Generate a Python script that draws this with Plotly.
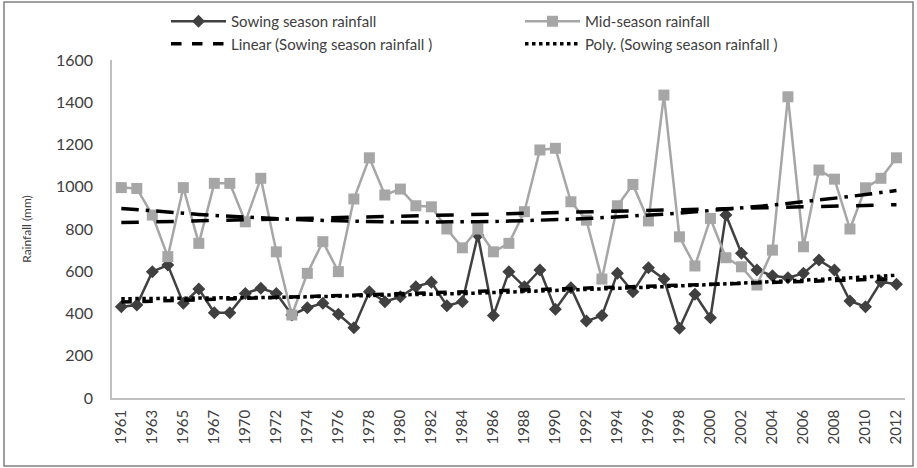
import numpy as np
import plotly.graph_objects as go

years = [str(y) for y in list(range(1961, 1969)) + list(range(1970, 2013))]

sowing = [432, 440, 598, 629, 448, 516, 404, 404, 495, 519, 495, 393, 427, 448, 396, 333, 503,
          456, 479, 527, 548, 437, 456, 771, 390, 598, 527, 606, 420, 522, 364, 390, 590, 503,
          617, 563, 330, 491, 380, 866, 685, 606, 579, 569, 590, 653, 606, 459, 432, 550, 538]

midseason = [996, 992, 866, 669, 996, 732, 1016, 1016, 834, 1040, 692, 393, 590, 740, 598, 942, 1137,
             961, 989, 910, 905, 800, 711, 800, 692, 732, 882, 1174, 1182, 929, 842, 563, 910, 1011,
             838, 1434, 763, 625, 850, 664, 621, 535, 700, 1426, 716, 1079, 1036, 800, 995, 1040, 1137]

tick_labels = years[::2]

idx = np.arange(1, len(years) + 1)
lin_sow = np.polyval(np.polyfit(idx, sowing, 1), idx)
poly_sow = np.polyval(np.polyfit(idx, sowing, 2), idx)
lin_mid = np.polyval(np.polyfit(idx, midseason, 1), idx)
poly_mid = np.polyval(np.polyfit(idx, midseason, 2), idx)

FONT = "Lato"
TXT = "#404040"
PW = 793.0
PH = 338.0

fig = go.Figure()
fig.add_trace(go.Scatter(x=years, y=sowing, name="Sowing season rainfall", mode="lines+markers",
                         line=dict(color="#404040", width=2.5), legend="legend",
                         marker=dict(symbol="diamond", size=10, color="#404040")))
fig.add_trace(go.Scatter(x=years, y=midseason, name="Mid-season rainfall", mode="lines+markers",
                         line=dict(color="#a6a6a6", width=2.5), legend="legend2",
                         marker=dict(symbol="square", size=11, color="#a6a6a6")))
fig.add_trace(go.Scatter(x=years, y=lin_sow, name="Linear (Sowing season rainfall )", mode="lines",
                         legend="legend", line=dict(color="black", width=3.5, dash="dash")))
fig.add_trace(go.Scatter(x=years, y=poly_sow, name="Poly. (Sowing season rainfall )", mode="lines",
                         legend="legend2", line=dict(color="black", width=3.5, dash="dot")))
fig.add_trace(go.Scatter(x=years, y=lin_mid, name="Linear (Mid-season rainfall)", mode="lines",
                         line=dict(color="black", width=3.5, dash="longdash"), showlegend=False))
fig.add_trace(go.Scatter(x=years, y=poly_mid, name="Poly. (Mid-season rainfall)", mode="lines",
                         line=dict(color="black", width=3.5, dash="longdashdot"), showlegend=False))

leg_common = dict(orientation="v", xanchor="left", yanchor="top", y=1 + (60 - 5) / PH,
                  font=dict(size=15, color=TXT), bgcolor="rgba(0,0,0,0)",
                  tracegroupgap=0, itemwidth=55)

fig.update_layout(
    width=917, height=468,
    margin=dict(l=112, r=12, t=60, b=70, autoexpand=False),
    paper_bgcolor="white", plot_bgcolor="white",
    font=dict(family=FONT, size=14, color=TXT),
    showlegend=True,
    legend=dict(x=(166 - 112) / PW, **leg_common),
    legend2=dict(x=(520 - 112) / PW, **leg_common),
    xaxis=dict(type="category", categoryorder="array", categoryarray=years,
               tickmode="array", tickvals=tick_labels, ticktext=tick_labels,
               tickangle=-90, range=[-0.6, len(years) - 0.45],
               showline=True, linecolor="#bfbfbf", linewidth=1.5, ticks="",
               ticklabelstandoff=4,
               showgrid=False, zeroline=False, tickfont=dict(size=15, color=TXT)),
    yaxis=dict(range=[0, 1600], dtick=200, showline=True, linecolor="#bfbfbf", linewidth=1.5,
               ticks="", showgrid=False, zeroline=False, tickfont=dict(size=16, color=TXT),
               ticklabelstandoff=14,
               title=dict(text="Rainfall (mm)", font=dict(size=12, color=TXT), standoff=22)),
    shapes=[dict(type="rect", xref="paper", yref="paper",
                 x0=(4 - 112) / PW, x1=(913 - 112) / PW,
                 y0=(398 - 466) / PH, y1=(398 - 2) / PH,
                 line=dict(color="#808080", width=1.5), fillcolor="rgba(0,0,0,0)", layer="below")],
)

fig.write_html("out.html")
